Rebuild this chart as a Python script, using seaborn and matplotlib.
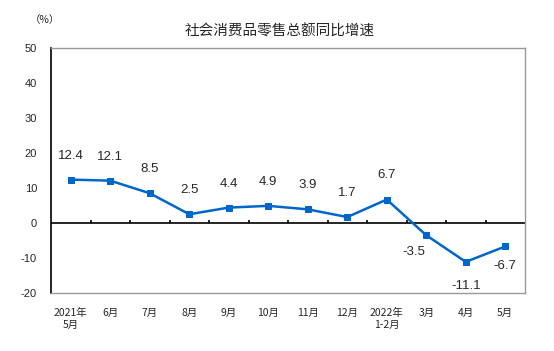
import numpy as np
import pandas as pd
import matplotlib
matplotlib.use("Agg")
import matplotlib.pyplot as plt
import seaborn as sns

categories = ["2021年\n5月", "6月", "7月", "8月", "9月", "10月", "11月", "12月",
              "2022年\n1-2月", "3月", "4月", "5月"]
values = [12.4, 12.1, 8.5, 2.5, 4.4, 4.9, 3.9, 1.7, 6.7, -3.5, -11.1, -6.7]
yticks = [-20, -10, 0, 10, 20, 30, 40, 50]
title = "社会消费品零售总额同比增速"
unit = "（%）"
# label offsets (points) for each data label
label_offsets = [(0, 13)] * 9 + [(-9, -8), (0, -13), (0, -10)]

sns.set_theme(style="white")
plt.rcParams['font.family'] = ['Liberation Sans', 'Noto Sans CJK SC', 'DejaVu Sans']

df = pd.DataFrame({"idx": np.arange(len(values)), "val": values})

fig = plt.figure(figsize=(5.54, 3.51), dpi=100)
ax = fig.add_axes([51/554, 1 - 293/351, 474/554, 245/351])

sns.lineplot(data=df, x="idx", y="val", ax=ax, color="#0066CC", linewidth=1.8,
             marker="s", markersize=5, markeredgecolor="#0066CC", zorder=3)

ax.set_xlim(-0.5, len(values) - 0.5)
ax.set_ylim(min(yticks), max(yticks))
ax.set_yticks(yticks)
ax.set_yticklabels([str(t) for t in yticks], fontsize=8)
ax.tick_params(axis="y", direction="in", length=3, width=1, color="black", pad=10)
ax.set_xticks(np.arange(len(values)))
ax.set_xticklabels(categories, fontsize=7.5, family=['Noto Sans CJK SC', 'DejaVu Sans'],
                   linespacing=1.2)
ax.tick_params(axis="x", length=0, pad=11)
ax.set_xlabel("")
ax.set_ylabel("")

for s in ["top", "right", "bottom"]:
    ax.spines[s].set_color("#999999")
    ax.spines[s].set_linewidth(1)
ax.spines["left"].set_color("black")
ax.spines["left"].set_linewidth(1.2)

ax.axhline(0, color="black", linewidth=1.2, zorder=2)
boundaries = np.arange(0.5, len(values) - 0.5, 1.0)
ax.vlines(boundaries, 0, 1, color="black", linewidth=1.2, zorder=2)

for i, v in enumerate(values):
    dx, dy = label_offsets[i]
    ax.annotate(f"{v}", (i, v), xytext=(dx, dy), textcoords="offset points",
                ha="center", va="bottom" if dy > 0 else "top", fontsize=9.5)

fig.text(280/554, 1 - 31/351, title, ha="center", va="center", fontsize=10.5,
         family=['Noto Sans CJK SC', 'DejaVu Sans'])
fig.text(45/554, 1 - 20/351, unit, ha="center", va="center", fontsize=7.5,
         family=['Noto Sans CJK SC', 'DejaVu Sans'])

fig.savefig("out.png", dpi=100)
